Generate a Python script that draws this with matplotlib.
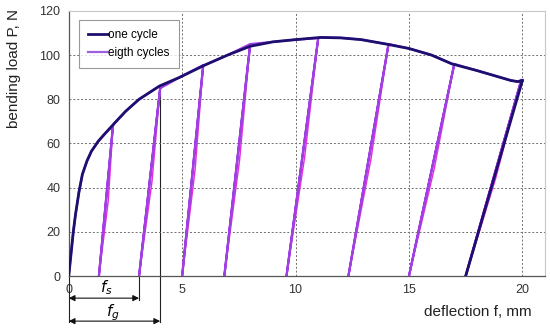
import numpy as np
import matplotlib.pyplot as plt

# envelope of the single monotonic test (one cycle)
env_x = [0, 0.1, 0.2, 0.3, 0.45, 0.6, 0.8, 1.0, 1.3, 1.6, 2.0, 2.5, 3.1, 4.0, 4.9,
         6.0, 7.0, 8.0, 9.0, 10.0, 11.1, 12.0, 12.9, 14.0, 15.0, 16.0, 16.9, 18.0,
         19.0, 19.5, 19.8, 20.0]
env_y = [0, 10, 20, 28, 38, 46, 52, 56.5, 61, 64.5, 69, 74.5, 80, 86, 90,
         95.5, 100, 104, 106, 107, 108, 107.8, 107, 105, 103, 100, 96, 93,
         90, 88.5, 88, 88.5]
one_unload_x = [20.0, 17.5]
one_unload_y = [88.5, 0]

# eight loading/unloading cycles: peak points and residual deflections
peak_x = [1.95, 4.03, 5.93, 8.0, 11.0, 14.1, 17.0, 19.95]
peak_y = [68, 85, 95.5, 105, 107.7, 105, 96, 88.7]
resid_x = [1.33, 3.1, 5.0, 6.86, 9.6, 12.33, 15.0, 17.5]

fs_x = 3.1
fg_x = 4.03
fg_y = 85

plt.rcParams['font.family'] = ['Liberation Sans', 'DejaVu Sans']

fig = plt.figure(figsize=(5.5, 3.31), dpi=100)
ax = fig.add_axes([0.125, 0.166, 0.866, 0.801])

# eight cycles path: follow envelope, unload to residual, reload to peak
ex = np.array(env_x)
ey = np.array(env_y)
px, py = [0.0], [0.0]
prev = 0.0
for x0, y0, r in zip(peak_x, peak_y, resid_x):
    m = (ex > prev) & (ex < x0)
    px += list(ex[m])
    py += list(ey[m])
    px += [x0, r, x0]
    py += [y0, 0, y0]
    prev = x0
ax.plot(px, py, color='#a040e0', lw=1.6, zorder=3)
# reload branches, slightly offset
for x0, y0, r in zip(peak_x, peak_y, resid_x):
    ax.plot([r, (r + x0) / 2 + 0.1, x0], [0, y0 / 2, y0], color='#e030e0', lw=1.1, zorder=2)

ax.plot(env_x, env_y, color='#1e0e70', lw=2.0, zorder=4)
ax.plot(one_unload_x, one_unload_y, color='#1e0e70', lw=2.0, zorder=4)

ax.plot([], [], color='#1e0e70', lw=2.0, label='one cycle')
ax.plot([], [], color='#a060e0', lw=1.6, label='eigth cycles')
leg = ax.legend(loc='upper left', fontsize=8.5, frameon=True, fancybox=False,
                handlelength=1.7, handletextpad=0.0, borderpad=0.8, labelspacing=0.45,
                borderaxespad=0, bbox_to_anchor=(0.021, 0.966))
leg.get_frame().set_edgecolor('#808080')
leg.get_frame().set_linewidth(0.8)

ax.set_xlim(0, 21)
ax.set_ylim(0, 120)
ax.set_xticks([0, 5, 10, 15, 20])
ax.set_yticks([0, 20, 40, 60, 80, 100, 120])
ax.tick_params(length=0, labelsize=9, colors='#333333', pad=6)
ax.grid(True, ls=(0, (2, 2)), color='#707070', lw=0.7)

for s in ['top', 'right']:
    ax.spines[s].set_color('#c8c8c8')
for s in ['left', 'bottom']:
    ax.spines[s].set_color('#555555')
    ax.spines[s].set_linewidth(0.9)

# dimension lines below axis
ax.plot([0, 0], [0, -21], color='#222222', lw=0.8, clip_on=False)
ax.plot([fs_x, fs_x], [0, -11], color='#222222', lw=0.8, clip_on=False)
ax.plot([fg_x, fg_x], [fg_y, -21], color='#222222', lw=0.8, clip_on=False, zorder=1)
for xe, ye in [(fs_x, -10), (fg_x, -20.4)]:
    ax.annotate('', xy=(xe, ye), xytext=(0, ye), annotation_clip=False,
                arrowprops=dict(arrowstyle='<|-|>', color='#111111', lw=0.8,
                                mutation_scale=9, shrinkA=0, shrinkB=0))
ax.text(1.67, -5.4, r'$f_s$', fontsize=11, ha='center', va='center', clip_on=False)
ax.text(1.95, -16.4, r'$f_g$', fontsize=11, ha='center', va='center', clip_on=False)

fig.text(0.967, 0.057, 'deflection f, mm', fontsize=11, ha='right', va='center', color='#222222')
fig.text(0.025, 0.972, 'bending load P, N', fontsize=11, rotation=90, ha='center', va='top',
         color='#222222')

fig.savefig('out.png', dpi=100)
